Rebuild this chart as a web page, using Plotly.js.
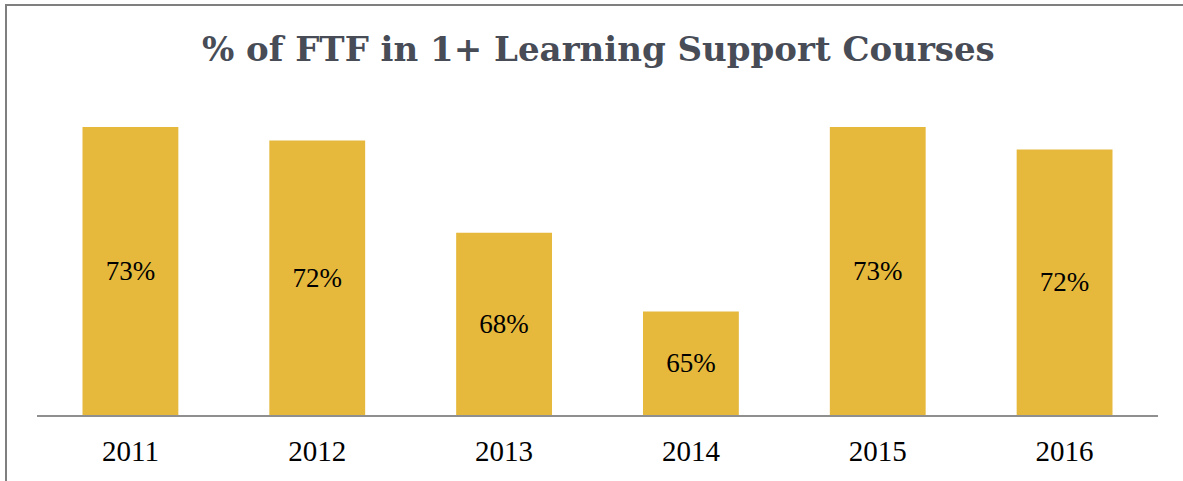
<!DOCTYPE html>
<html>
<head>
<meta charset="utf-8">
<script src="https://cdn.plot.ly/plotly-3.0.1.min.js"></script>
<style>
  html, body { margin: 0; padding: 0; background: #fff; overflow: hidden; }
  #wrap { position: absolute; left: 5px; top: 4px; width: 1178px; height: 477px;
          border-left: 2px solid #7f7f7f; border-top: 2px solid #7f7f7f; }
  #chart { width: 1178px; height: 477px; }
</style>
</head>
<body>
<div id="wrap"><div id="chart"></div></div>
<script>
const years = ['2011', '2012', '2013', '2014', '2015', '2016'];
const values = [72.8, 72.2, 68.1, 64.6, 72.8, 71.8];
const labels = ['73%', '72%', '68%', '65%', '73%', '72%'];
const axisMin = 60;

const trace = {
  type: 'bar',
  x: years,
  base: axisMin,
  y: values.map(v => v - axisMin),
  text: labels,
  textposition: 'inside',
  insidetextanchor: 'middle',
  textangle: 0,
  textfont: { family: 'Liberation Serif, serif', size: 27, color: '#000' },
  insidetextfont: { family: 'Liberation Serif, serif', size: 27, color: '#000' },
  constraintext: 'none',
  marker: { color: '#E6B93D' },
  hoverinfo: 'none'
};

const layout = {
  width: 1178,
  height: 477,
  margin: { l: 30, r: 27, t: 94, b: 68 },
  paper_bgcolor: '#fff',
  plot_bgcolor: '#fff',
  bargap: 0.487,
  showlegend: false,
  title: {
    text: '<b>% of FTF in 1+ Learning Support Courses</b>',
    font: { family: 'DejaVu Serif, serif', size: 34, color: '#474c56' },
    x: 0.502, xref: 'container', xanchor: 'center',
    y: 0.91, yref: 'container', yanchor: 'middle'
  },
  xaxis: {
    type: 'category',
    showline: true, linecolor: '#8f8f8f', linewidth: 2,
    ticks: '', showgrid: false, zeroline: false,
    tickfont: { family: 'Liberation Serif, serif', size: 29, color: '#000' },
    ticklabelstandoff: 9
  },
  yaxis: {
    range: [axisMin, 74],
    visible: false,
    showgrid: false, zeroline: false
  }
};

Plotly.newPlot('chart', [trace], layout, { displayModeBar: false, staticPlot: true });
</script>
</body>
</html>
